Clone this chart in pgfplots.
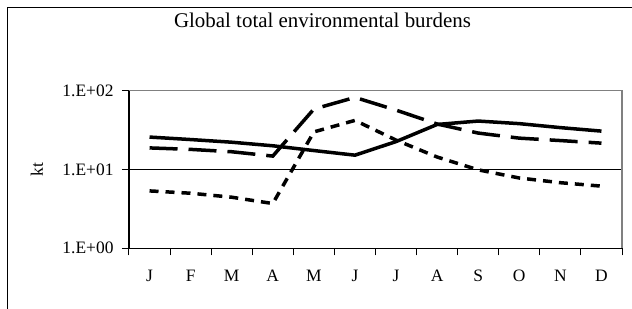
\documentclass[border=0pt]{standalone}
\usepackage{pgfplots}
\pgfplotsset{compat=1.18}
\usepackage{fontspec}
\setmainfont{Liberation Serif}
\begin{document}
\begin{tikzpicture}
\useasboundingbox (-129bp,-60.7bp) rectangle (503bp,248.3bp);
\draw[black, line width=1.2bp] (-121.5bp,-80bp) -- (-121.5bp,240.6bp) -- (540bp,240.6bp);
\begin{axis}[
  at={(0,0)}, anchor=south west,
  scale only axis, width=493bp, height=157.6bp,
  ymode=log, ymin=1, ymax=100,
  xmin=0.5, xmax=12.5,
  axis x line*=bottom, axis y line*=left,
  axis line style={-, black, line width=1.1bp},
  xtick={1,...,12},
  xticklabels={J,F,M,A,M,J,J,A,S,O,N,D},
  minor xtick={0.5,1.5,...,12.5},
  major x tick style={draw=none},
  minor x tick style={black, line width=1bp},
  ytick={1,10,100},
  yticklabels={1.E+00,1.E+01,1.E+02},
  yminorticks=false,
  y tick style={black, line width=1bp},
  tick align=outside,
  major tick length=7bp, minor tick length=7bp,
  ymajorgrids, major grid style={black, line width=0.8bp},
  ticklabel style={font=\fontsize{17.5}{20}\selectfont},
  xticklabel style={anchor=base, yshift=-26bp},
  yticklabel style={xshift=-5bp},
  ylabel={kt},
  ylabel style={font=\fontsize{17.5}{20}\selectfont, at={(axis description cs:-0.187,0.5)}, anchor=center},
  title={Global total environmental burdens},
  title style={font=\fontsize{21}{24}\selectfont, at={(axis description cs:0.3925,1)}, anchor=base, yshift=57.4bp},
  clip=false,
]
\addplot[black, line width=3.5bp] coordinates {
(1,25.8) (2,24.0) (3,22.2) (4,20.0) (5,17.4) (6,15.2) (7,22.6) (8,37.3) (9,41.2) (10,38.2) (11,34) (12,30.7)};
\addplot[black, line width=3.5bp, dash pattern=on 28bp off 11bp] coordinates {
(1,18.8) (2,18.0) (3,16.8) (4,14.8) (5,58.5) (6,82.2) (7,56.7) (8,37.8) (9,29.0) (10,25.0) (11,23.3) (12,21.6)};
\addplot[black, line width=3.5bp, dash pattern=on 9bp off 7bp] coordinates {
(1,5.35) (2,5.0) (3,4.45) (4,3.7) (5,30.0) (6,42.0) (7,23.6) (8,14.4) (9,9.9) (10,7.8) (11,6.8) (12,6.15)};
\end{axis}
\draw[gray, line width=1.2bp] (0,157.6bp) -- (493bp,157.6bp) -- (493bp,0);
\end{tikzpicture}
\end{document}
